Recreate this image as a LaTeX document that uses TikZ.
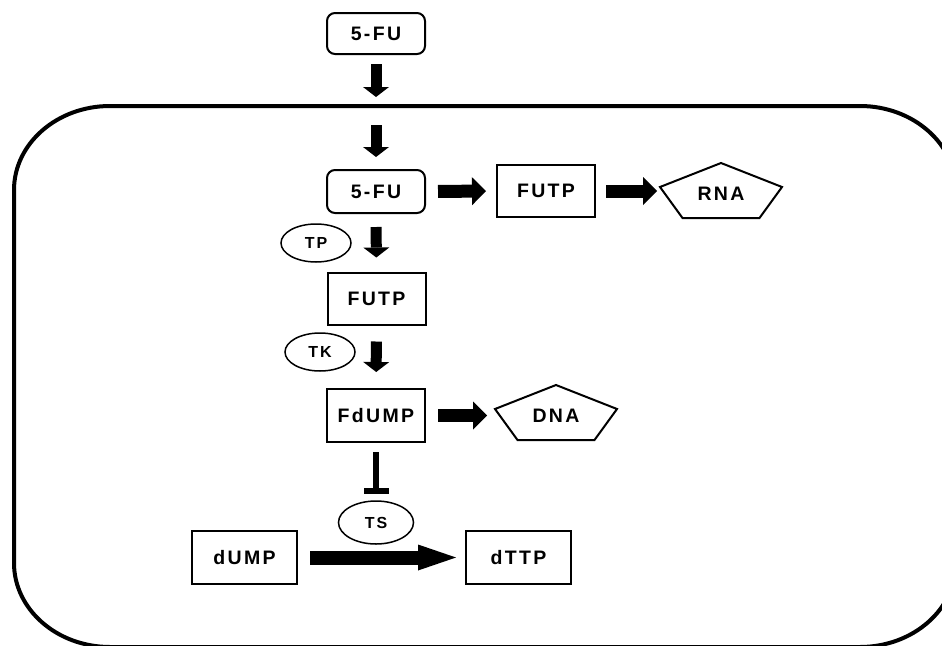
\documentclass[tikz,border=0pt]{standalone}
\usepackage{fontspec}
\setmainfont{Liberation Sans}
\newfontfamily\lblfont{Liberation Sans Bold}[LetterSpace=12]
\usetikzlibrary{arrows.meta,shapes.geometric}

% pentagon drawn around a label node: apex, upper corners, lower corners
\newcommand\pentaround[1]{%
  \draw[pent] ([shift={(0,-31)}]#1.center) -- ([shift={(61,-7)}]#1.center)
    -- ([shift={(38.5,24)}]#1.center) -- ([shift={(-38.5,24)}]#1.center)
    -- ([shift={(-61,-7)}]#1.center) -- cycle;}

\begin{document}
\begin{tikzpicture}[x=1pt,y=-1pt,
  lbl/.style={inner sep=0pt, font=\lblfont\fontsize{19.5}{21}\selectfont},
  box/.style={lbl, draw, line width=2pt, minimum width=98pt, minimum height=52pt},
  rbox/.style={box, rounded corners=8pt},
  enz/.style={draw, ellipse, line width=1.5pt, inner sep=0pt,
    minimum width=70pt, minimum height=38pt,
    font=\lblfont\fontsize{16}{18}\selectfont},
  pent/.style={line width=2pt, line join=miter},
  fatv/.style={line width=11pt, -{Triangle[width=26pt,length=10pt,line width=0pt]}},
  fath/.style={line width=13pt, -{Triangle[width=28pt,length=14pt,line width=0pt]}},
  fatbig/.style={line width=14pt, -{Triangle[width=26pt,length=38pt,line width=0pt]}},
  inhib/.style={line width=6.5pt, -{Bar[width=25pt]}},
  frame/.style={line width=4pt}]

\useasboundingbox (0,0) rectangle (942,645);
\clip (0,0) rectangle (942,645);

% cell boundary with elliptic corners
\draw[frame] (110,106) -- (860,106)
  arc[start angle=-90, end angle=0, x radius=96, y radius=84] -- (956,563)
  arc[start angle=0, end angle=90, x radius=96, y radius=84] -- (110,647)
  arc[start angle=90, end angle=180, x radius=96, y radius=84] -- (14,190)
  arc[start angle=180, end angle=270, x radius=96, y radius=84] -- cycle;

% nodes
\node[rbox, minimum height=41pt] (fuOut) at (376,33.5) {5-FU};
\node[rbox, minimum height=43pt] (fuIn) at (376,191.5) {5-FU};
\node[box] (futpR) at (546,191) {FUTP};
\node[lbl] (rna) at (721,194) {RNA};
\node[enz] (tp) at (316,243) {TP};
\node[box] (futp) at (376.5,298.5) {FUTP};
\node[enz] (tk) at (320,352) {TK};
\node[box, minimum height=53pt] (fdump) at (376,415.5) {FdUMP};
\node[lbl] (dna) at (556,416) {DNA};
\node[enz, minimum width=75pt, minimum height=43pt] (ts) at (376,522.5) {TS};
\node[box, minimum width=105pt, minimum height=53pt] (dump) at (244.5,557.5) {dUMP};
\node[box, minimum width=105pt, minimum height=53pt] (dttp) at (518.5,557.5) {dTTP};

\pentaround{rna}
\pentaround{dna}
\coordinate (rnaL) at ([shift={(-61,-7)}]rna.center);
\coordinate (dnaL) at ([shift={(-61,-7)}]dna.center);

% uptake across the boundary
\coordinate (gateOut) at (376,97);
\coordinate (gateIn) at (376,125);
\draw[fatv, shorten <=9pt] (fuOut) -- (gateOut);
\draw[fatv, shorten >=12pt] (gateIn) -- (fuIn);

% metabolic steps
\draw[fath, shorten <=12pt, shorten >=10pt] (fuIn) -- (futpR);
\draw[fath, shorten <=10pt, shorten >=3pt] (futpR) -- (futpR -| rnaL);
\draw[fatv, shorten <=13pt, shorten >=14pt] (fuIn) -- (futp);
\draw[fatv, shorten <=16pt, shorten >=16pt] (futp) -- (fdump);
\draw[fath, shorten <=12pt, shorten >=8pt] (fdump) -- (fdump -| dnaL);
\draw[inhib, shorten <=9pt, shorten >=6pt] (fdump) -- (ts);
\draw[fatbig, shorten <=12pt, shorten >=9pt] (dump) -- (dttp);

\end{tikzpicture}
\end{document}
